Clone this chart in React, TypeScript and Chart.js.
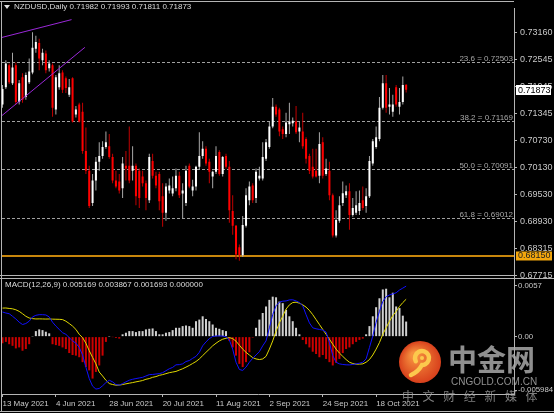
import React, { useEffect, useRef } from 'react';
import { Chart, registerables } from 'chart.js';

Chart.register(...registerables);

// ---------- text ----------
const symbolTitle = 'NZDUSD,Daily';
const headerValues = ['0.71982', '0.71993', '0.71811', '0.71873'];
const macdTitle = 'MACD(12,26,9)';
const macdHeaderValues = ['0.005169', '0.003867', '0.001693', '0.000000'];

// ---------- axis ticks ----------
const dateTickIndex = [0, 16, 32, 48, 64, 80, 96, 112];
const dateTickLabels = ['13 May 2021', '4 Jun 2021', '28 Jun 2021', '20 Jul 2021', '11 Aug 2021', '2 Sep 2021', '24 Sep 2021', '18 Oct 2021'];
const priceTicks = [0.7316, 0.72545, 0.71945, 0.71345, 0.7073, 0.7013, 0.6953, 0.6893, 0.68315, 0.67715];
const macdTicks = [0.0057, 0, -0.005984];
const macdTickLabels = ['0.0057', '0.00', '-0.005984'];

// ---------- candles (daily, bar 0 = 13 May 2021) ----------
const openP = [
  0.7154, 0.7193, 0.7242, 0.7202, 0.7242, 0.7160, 0.7215, 0.7171, 0.7204, 0.7226,
  0.7279, 0.7292, 0.7253, 0.7268, 0.7235, 0.7242, 0.7143, 0.7193, 0.7226, 0.7213,
  0.7176, 0.7213, 0.7132, 0.7154, 0.7138, 0.7050, 0.7006, 0.6934, 0.6984, 0.7026,
  0.7039, 0.7059, 0.7061, 0.7037, 0.6984, 0.6982, 0.6967, 0.7017, 0.7017, 0.7006,
  0.7017, 0.7006, 0.6993, 0.6978, 0.6940, 0.7028, 0.6995, 0.6999, 0.6949, 0.6912,
  0.6962, 0.6955, 0.6967, 0.6995, 0.6955, 0.6934, 0.7017, 0.6962, 0.6971, 0.7015,
  0.7039, 0.7055, 0.7026, 0.6993, 0.7004, 0.7048, 0.6999, 0.7039, 0.7015, 0.6916,
  0.6883, 0.6835, 0.6817, 0.6883, 0.6940, 0.6973, 0.6945, 0.6989, 0.6989, 0.7033,
  0.7059, 0.7105, 0.7149, 0.7143, 0.7099, 0.7088, 0.7110, 0.7112, 0.7116, 0.7094,
  0.7094, 0.7077, 0.7039, 0.7015, 0.7006, 0.6995, 0.7070, 0.6999, 0.7006, 0.6951,
  0.6861, 0.6894, 0.6934, 0.6951, 0.6960, 0.6907, 0.6912, 0.6916, 0.6940, 0.6927,
  0.6949, 0.7022, 0.7059, 0.7077, 0.7147, 0.7202, 0.7149, 0.7138, 0.7193, 0.7149,
  0.7160, 0.71982,
];
const highP = [
  0.7198, 0.7253, 0.7246, 0.7270, 0.7248, 0.7209, 0.7224, 0.7226, 0.7257, 0.7316,
  0.7308, 0.7301, 0.7279, 0.7275, 0.7253, 0.7246, 0.7220, 0.7242, 0.7231, 0.7217,
  0.7211, 0.7215, 0.7151, 0.7158, 0.7158, 0.7103, 0.7017, 0.6999, 0.7037, 0.7070,
  0.7072, 0.7094, 0.7088, 0.7044, 0.7006, 0.6999, 0.7037, 0.7050, 0.7105, 0.7061,
  0.7022, 0.7011, 0.7006, 0.6984, 0.7044, 0.7044, 0.7004, 0.7004, 0.6978, 0.6978,
  0.6989, 0.6993, 0.7011, 0.7004, 0.6978, 0.7017, 0.7022, 0.6986, 0.7017, 0.7092,
  0.7072, 0.7061, 0.7033, 0.7006, 0.7061, 0.7052, 0.7039, 0.7044, 0.7028, 0.6951,
  0.6885, 0.6841, 0.6905, 0.6967, 0.6982, 0.6978, 0.7011, 0.7015, 0.7070, 0.7077,
  0.7116, 0.7169, 0.7154, 0.7147, 0.7105, 0.7136, 0.7158, 0.7125, 0.7151, 0.7116,
  0.7136, 0.7081, 0.7044, 0.7055, 0.7055, 0.7092, 0.7081, 0.7033, 0.7026, 0.6955,
  0.6918, 0.6949, 0.6982, 0.6973, 0.6978, 0.6945, 0.6960, 0.6962, 0.6971, 0.6967,
  0.7039, 0.7077, 0.7105, 0.7171, 0.7220, 0.7220, 0.7191, 0.7176, 0.7198, 0.7191,
  0.7217, 0.71993,
];
const lowP = [
  0.7147, 0.7189, 0.7200, 0.7198, 0.7154, 0.7154, 0.7158, 0.7165, 0.7200, 0.7222,
  0.7270, 0.7231, 0.7242, 0.7224, 0.7228, 0.7127, 0.7132, 0.7187, 0.7180, 0.7180,
  0.7171, 0.7114, 0.7125, 0.7114, 0.7044, 0.6999, 0.6923, 0.6927, 0.6962, 0.7006,
  0.7033, 0.7055, 0.7033, 0.6978, 0.6967, 0.6955, 0.6945, 0.6984, 0.6978, 0.6984,
  0.6929, 0.6923, 0.6971, 0.6918, 0.6934, 0.6989, 0.6967, 0.6918, 0.6881, 0.6894,
  0.6955, 0.6949, 0.6960, 0.6945, 0.6900, 0.6927, 0.6967, 0.6949, 0.6962, 0.7008,
  0.7033, 0.7017, 0.6978, 0.6967, 0.6999, 0.6995, 0.6993, 0.7011, 0.6890, 0.6863,
  0.6808, 0.6805, 0.6813, 0.6879, 0.6929, 0.6934, 0.6934, 0.6984, 0.6984, 0.7028,
  0.7055, 0.7101, 0.7127, 0.7083, 0.7077, 0.7081, 0.7088, 0.7105, 0.7088, 0.7070,
  0.7055, 0.7022, 0.6999, 0.6989, 0.6991, 0.6978, 0.6989, 0.6995, 0.6940, 0.6857,
  0.6857, 0.6890, 0.6927, 0.6945, 0.6874, 0.6903, 0.6907, 0.6907, 0.6918, 0.6912,
  0.6945, 0.7017, 0.7055, 0.7072, 0.7143, 0.7136, 0.7132, 0.7127, 0.7149, 0.7132,
  0.7154, 0.71811,
];
const closeP = [
  0.7189, 0.7246, 0.7204, 0.7237, 0.7160, 0.7202, 0.7165, 0.7220, 0.7228, 0.7281,
  0.7294, 0.7257, 0.7270, 0.7231, 0.7246, 0.7147, 0.7215, 0.7224, 0.7187, 0.7191,
  0.7193, 0.7116, 0.7143, 0.7116, 0.7050, 0.7006, 0.6927, 0.6984, 0.7026, 0.7039,
  0.7059, 0.7070, 0.7037, 0.6984, 0.6971, 0.6962, 0.7022, 0.7011, 0.6984, 0.7017,
  0.6949, 0.6945, 0.6978, 0.6945, 0.7037, 0.6995, 0.6973, 0.6938, 0.6912, 0.6971,
  0.6973, 0.6967, 0.6995, 0.6951, 0.6962, 0.7006, 0.6971, 0.6971, 0.7015, 0.7039,
  0.7055, 0.7022, 0.7004, 0.7004, 0.7039, 0.6999, 0.7037, 0.7015, 0.6918, 0.6883,
  0.6819, 0.6817, 0.6885, 0.6951, 0.6971, 0.6940, 0.7004, 0.6995, 0.7037, 0.7070,
  0.7105, 0.7149, 0.7132, 0.7094, 0.7088, 0.7114, 0.7116, 0.7118, 0.7092, 0.7103,
  0.7061, 0.7033, 0.7006, 0.6993, 0.6993, 0.7066, 0.6995, 0.7011, 0.6951, 0.6861,
  0.6896, 0.6929, 0.6956, 0.6960, 0.6907, 0.6923, 0.6929, 0.6934, 0.6923, 0.6949,
  0.7028, 0.7072, 0.7081, 0.7147, 0.7202, 0.7147, 0.7154, 0.7154, 0.7154, 0.7160,
  0.7198, 0.71873,
];

// ---------- MACD(12,26,9) ----------
const macdHist = [
  -0.00073, -0.00059, -0.00085, -0.00103, -0.00132, -0.00121, -0.00158, -0.00139, -0.00085, 0.00002,
  0.00062, 0.00081, 0.00073, 0.00055, 0.00037, -0.00085, -0.00095, -0.00103, -0.00121, -0.00139,
  -0.00184, -0.00206, -0.00213, -0.00231, -0.00286, -0.00341, -0.00378, -0.0047, -0.00396, -0.00323,
  -0.00213, -0.00059, 0.00001, -0.00002, -0.00015, -0.00022, 0.00026, 0.00044, 0.00062, 0.00062,
  0.00051, 0.00062, 0.00062, 0.00081, 0.00088, 0.00092, 0.00062, 0.00026, 0.00026, 0.00044,
  0.00051, 0.00073, 0.00099, 0.00099, 0.00118, 0.00125, 0.00118, 0.00099, 0.00173, 0.00191,
  0.00228, 0.00198, 0.00173, 0.00136, 0.00099, 0.00088, 0.00073, 0.00062, -0.00048, -0.00121,
  -0.00213, -0.00305, -0.00341, -0.00286, -0.00176, -0.00011, 0.00099, 0.00191, 0.00265, 0.00338,
  0.00412, 0.00448, 0.00441, 0.00393, 0.00375, 0.00301, 0.00228, 0.00173, 0.00099, 0.00026,
  -0.00037, -0.00085, -0.00121, -0.00169, -0.00195, -0.00231, -0.00206, -0.0025, -0.00286, -0.00323,
  -0.00294, -0.0025, -0.00184, -0.00139, -0.00121, -0.00085, -0.00059, -0.00037, -0.00022, 0.00026,
  0.00118, 0.00228, 0.0033, 0.0043, 0.00529, 0.00537, 0.00441, 0.00492, 0.00338, 0.0032,
  0.00235, 0.00169,
];
const macdMain = [
  0.00276, 0.00265, 0.00257, 0.00228, 0.00198, 0.00162, 0.00136, 0.00147, 0.00173, 0.00221,
  0.00239, 0.00246, 0.00246, 0.00243, 0.00221, 0.00162, 0.00118, 0.00081, 0.00044, 0.00026,
  -0.00011, -0.00048, -0.00073, -0.00121, -0.00206, -0.00342, -0.0047, -0.00555, -0.00588, -0.00581,
  -0.00551, -0.00515, -0.00489, -0.00507, -0.00537, -0.00544, -0.00526, -0.00507, -0.00489, -0.00478,
  -0.0047, -0.00463, -0.00456, -0.00441, -0.00426, -0.00424, -0.00419, -0.00415, -0.00404, -0.00382,
  -0.0036, -0.00345, -0.00316, -0.00314, -0.00305, -0.00279, -0.00268, -0.00243, -0.00221, -0.00176,
  -0.00103, -0.00059, -0.00022, 0.00001, 0.00007, 0.00008, 0.00006, -0.00002, -0.00037, -0.0014,
  -0.00287, -0.00368, -0.00379, -0.00342, -0.00287, -0.00243, -0.00206, -0.00169, -0.00103, -0.00048,
  0.00099, 0.00246, 0.00346, 0.00386, 0.00397, 0.004, 0.00412, 0.00413, 0.004, 0.00382,
  0.00345, 0.00246, 0.00154, 0.00099, 0.00088, 0.00081, 0.00073, 0.00051, -0.00066, -0.00213,
  -0.00287, -0.00305, -0.00312, -0.00316, -0.00317, -0.00312, -0.00305, -0.00298, -0.00287, -0.0025,
  -0.00121, 0.00007, 0.00162, 0.00283, 0.00393, 0.00448, 0.00467, 0.00478, 0.00492, 0.00522,
  0.00544, 0.00566,
];
const macdSignal = [
  0.0032, 0.00321, 0.00316, 0.00312, 0.00301, 0.00283, 0.00257, 0.00228, 0.00209, 0.00202,
  0.00198, 0.00199, 0.00198, 0.00197, 0.00198, 0.00196, 0.00195, 0.00194, 0.00191, 0.00173,
  0.00147, 0.00118, 0.00081, 0.00026, -0.00011, -0.00074, -0.00158, -0.00232, -0.00305, -0.00397,
  -0.00441, -0.00489, -0.00526, -0.00537, -0.00544, -0.00543, -0.00537, -0.00529, -0.00522, -0.00515,
  -0.00507, -0.005, -0.00492, -0.00478, -0.0047, -0.00456, -0.00448, -0.00434, -0.00426, -0.00415,
  -0.00404, -0.00397, -0.0039, -0.00375, -0.0036, -0.00342, -0.00323, -0.00301, -0.00279, -0.0025,
  -0.00213, -0.00176, -0.0014, -0.00103, -0.00074, -0.00048, -0.00029, -0.00018, -0.00011, -0.00022,
  -0.00051, -0.00096, -0.0014, -0.00176, -0.00206, -0.00235, -0.0025, -0.00257, -0.0025, -0.00221,
  -0.0014, -0.00048, 0.00062, 0.00154, 0.00228, 0.00309, 0.00356, 0.00382, 0.00386, 0.00375,
  0.00356, 0.00331, 0.00294, 0.00246, 0.00191, 0.00136, 0.00081, 0.00026, -0.00029, -0.00085,
  -0.0014, -0.00184, -0.00221, -0.00257, -0.00287, -0.00301, -0.00309, -0.00308, -0.00305, -0.00287,
  -0.00257, -0.00206, -0.0014, -0.00066, 0.00026, 0.00099, 0.00173, 0.00235, 0.00283, 0.00338,
  0.00382, 0.00419,
];

// ---------- chart objects ----------
const fibLevels = ['23.6', '38.2', '50.0', '61.8'];
const fibPrices = [0.72503, 0.71169, 0.70091, 0.69012];
const supportPrice = 0.6815;
const lastPrice = 0.71873;
const trendLineA = [[-0.24, 0.7304], [20.7, 0.7344]];
const trendLineB = [[-0.24, 0.7129], [24.7, 0.7282]];

const W = 554;
const H = 413;

const mtPlugin = {
  id: 'mtLook',
  beforeDraw(chart: any) {
    const ctx = chart.ctx;
    ctx.save();
    ctx.fillStyle = '#000000';
    ctx.fillRect(0, 0, chart.width, chart.height);
    ctx.restore();
  },
  beforeDatasetsDraw(chart: any) {
    const { ctx, chartArea: ca } = chart;
    const y = chart.scales.y;
    ctx.save();
    ctx.strokeStyle = '#a0a0a0';
    ctx.lineWidth = 1;
    ctx.setLineDash([3, 2]);
    fibPrices.forEach((p) => {
      const py = Math.round(y.getPixelForValue(p)) + 0.5;
      ctx.beginPath();
      ctx.moveTo(ca.left, py);
      ctx.lineTo(ca.right, py);
      ctx.stroke();
    });
    ctx.setLineDash([]);
    const oy = Math.round(y.getPixelForValue(supportPrice));
    ctx.strokeStyle = '#c8860c';
    ctx.lineWidth = 2;
    ctx.beginPath();
    ctx.moveTo(ca.left, oy);
    ctx.lineTo(ca.right, oy);
    ctx.stroke();
    ctx.restore();
  },
  afterDatasetsDraw(chart: any) {
    const { ctx, chartArea: ca } = chart;
    const x = chart.scales.x;
    const y = chart.scales.y;
    ctx.save();
    ctx.beginPath();
    ctx.rect(ca.left, y.top, ca.right - ca.left, y.bottom - y.top);
    ctx.clip();
    ctx.strokeStyle = '#9a28d8';
    ctx.lineWidth = 1;
    [trendLineA, trendLineB].forEach((ln) => {
      ctx.beginPath();
      ctx.moveTo(x.getPixelForValue(ln[0][0]), y.getPixelForValue(ln[0][1]));
      ctx.lineTo(x.getPixelForValue(ln[1][0]), y.getPixelForValue(ln[1][1]));
      ctx.stroke();
    });
    ctx.font = '8px "Liberation Sans"';
    ctx.fillStyle = '#a8a8a8';
    ctx.textAlign = 'right';
    ctx.textBaseline = 'alphabetic';
    fibPrices.forEach((p, k) => {
      const py = Math.round(y.getPixelForValue(p));
      ctx.fillText(`${fibLevels[k]} = ${p.toFixed(5)}`, ca.right - 1, py - 1.5);
    });
    ctx.restore();
  },
  afterDraw(chart: any) {
    const { ctx, chartArea: ca } = chart;
    const y = chart.scales.y;
    ctx.save();
    // frame lines
    ctx.strokeStyle = '#b4b4b4';
    ctx.lineWidth = 1;
    const line = (x1: number, y1: number, x2: number, y2: number) => {
      ctx.beginPath();
      ctx.moveTo(x1, y1);
      ctx.lineTo(x2, y2);
      ctx.stroke();
    };
    line(0, 1.5, ca.right, 1.5);
    line(1.5, 1.5, 1.5, 411.5);
    line(0, 275.5, ca.right, 275.5);
    line(0, 278.5, W, 278.5);
    line(0, 411.5, W, 411.5);

    // headers
    ctx.fillStyle = '#e0e0e0';
    ctx.beginPath();
    ctx.moveTo(4, 5);
    ctx.lineTo(10, 5);
    ctx.lineTo(7, 9);
    ctx.closePath();
    ctx.fill();
    ctx.font = '8px "Liberation Sans"';
    ctx.textAlign = 'left';
    ctx.textBaseline = 'middle';
    ctx.fillStyle = '#dcdcdc';
    ctx.fillText(`${symbolTitle} ${headerValues.join(' ')}`, 14, 7);
    ctx.fillText(`${macdTitle} ${macdHeaderValues.join(' ')}`, 5, 285);

    // price boxes
    const ly = y.getPixelForValue(lastPrice);
    ctx.fillStyle = '#ffffff';
    ctx.fillRect(516, Math.round(ly) - 5, 35, 10);
    ctx.fillStyle = '#000000';
    ctx.font = '9px "Liberation Sans"';
    ctx.fillText(lastPrice.toFixed(5), 518, Math.round(ly) + 0.5);
    const sy = y.getPixelForValue(supportPrice);
    ctx.fillStyle = '#f2a60d';
    ctx.fillRect(516, Math.round(sy) - 4.5, 36, 9);
    ctx.fillStyle = '#202020';
    ctx.fillText(supportPrice.toFixed(5), 518, Math.round(sy));

    // watermark logo
    const cx = 420;
    const cy = 362;
    const r = 21;
    const g = ctx.createRadialGradient(cx - 6, cy - 7, 3, cx, cy, r);
    g.addColorStop(0, '#f6903e');
    g.addColorStop(1, '#d8401c');
    ctx.fillStyle = g;
    ctx.beginPath();
    ctx.arc(cx, cy, r, 0, Math.PI * 2);
    ctx.fill();
    ctx.strokeStyle = '#fcc94d';
    ctx.lineCap = 'round';
    ctx.lineWidth = 4.5;
    ctx.beginPath();
    ctx.arc(cx + 2, cy - 4, 7, Math.PI * 0.85, Math.PI * 2.5);
    ctx.quadraticCurveTo(cx - 2, cy + 10, cx - 9, cy + 13);
    ctx.stroke();
    ctx.fillStyle = '#fcc94d';
    ctx.beginPath();
    ctx.arc(cx + 2, cy - 4, 2, 0, Math.PI * 2);
    ctx.fill();

    ctx.globalAlpha = 0.85;
    ctx.fillStyle = '#a8a8a8';
    ctx.textAlign = 'left';
    ctx.textBaseline = 'middle';
    ctx.font = 'bold 29px "Noto Sans CJK SC"';
    ctx.fillText('中金网', 448, 360);
    ctx.font = '10px "Liberation Sans"';
    ctx.fillText('CNGOLD.COM.CN', 451, 382);
    ctx.globalAlpha = 0.75;
    ctx.font = '12px "Noto Sans CJK SC"';
    const tag = ['中', '文', '财', '经', '新', '媒', '体'];
    tag.forEach((ch, k) => ctx.fillText(ch, 402 + k * 20.6, 396));
    ctx.restore();
  },
};

export default function App() {
  const ref = useRef<HTMLCanvasElement | null>(null);

  useEffect(() => {
    document.body.style.margin = '0';
    document.body.style.background = '#000';
    const canvas = ref.current;
    if (!canvas) return;
    const idx = closeP.map((_, i) => i);
    const bull = idx.map((i) => closeP[i] >= openP[i]);

    const chart = new Chart(canvas, {
      type: 'bar',
      data: {
        datasets: [
          {
            type: 'bar',
            label: 'body',
            data: idx.map((i) => ({ x: i, y: [openP[i], closeP[i]] })) as any,
            yAxisID: 'y',
            backgroundColor: idx.map((i) => (bull[i] ? '#ffffff' : '#ff0000')),
            grouped: false,
            maxBarThickness: 2,
            minBarLength: 1,
            order: 1,
          },
          {
            type: 'bar',
            label: 'wick',
            data: idx.map((i) => ({ x: i, y: [lowP[i], highP[i]] })) as any,
            yAxisID: 'y',
            backgroundColor: idx.map((i) => (bull[i] ? '#a8a8a8' : '#c00000')),
            grouped: false,
            maxBarThickness: 1,
            order: 2,
          },
          {
            type: 'line',
            label: 'MACD',
            data: macdMain.map((v, i) => ({ x: i, y: v })),
            yAxisID: 'y2',
            borderColor: '#1010ff',
            borderWidth: 1,
            pointRadius: 0,
            tension: 0,
            order: 0,
          },
          {
            type: 'line',
            label: 'Signal',
            data: macdSignal.map((v, i) => ({ x: i, y: v })),
            yAxisID: 'y2',
            borderColor: '#e0d800',
            borderWidth: 1,
            pointRadius: 0,
            tension: 0,
            order: 0,
          },
          {
            type: 'bar',
            label: 'Histogram',
            data: macdHist.map((v, i) => ({ x: i, y: v })) as any,
            yAxisID: 'y2',
            backgroundColor: macdHist.map((v) => (v >= 0 ? '#d0d0d0' : '#cc0000')),
            grouped: false,
            maxBarThickness: 2,
            order: 3,
          },
        ],
      },
      options: {
        responsive: false,
        maintainAspectRatio: false,
        animation: false,
        devicePixelRatio: 1,
        events: [],
        layout: { padding: { top: 2, left: 2, right: 0, bottom: 0 } },
        plugins: { legend: { display: false }, tooltip: { enabled: false }, title: { display: false } },
        scales: {
          x: {
            type: 'linear',
            min: -0.15,
            max: 153.33,
            offset: false,
            grid: { display: true, drawOnChartArea: false, drawTicks: true, tickLength: 3, tickColor: '#b4b4b4', offset: false },
            border: { display: true, color: '#b4b4b4' },
            ticks: {
              autoSkip: false,
              maxRotation: 0,
              minRotation: 0,
              align: 'start',
              padding: 2,
              color: '#c8c8c8',
              font: { family: '"Liberation Sans"', size: 8 },
              callback: (v: any) => {
                const k = dateTickIndex.indexOf(Number(v));
                return k >= 0 ? dateTickLabels[k] : '';
              },
            },
            afterBuildTicks: (s: any) => {
              s.ticks = dateTickIndex.map((v) => ({ value: v }));
            },
            afterFit: (s: any) => {
              s.height = 19;
            },
          },
          y: {
            type: 'linear',
            position: 'right',
            stack: 'panes',
            stackWeight: 275,
            min: 0.67642,
            max: 0.73691,
            bounds: 'data',
            grid: { display: true, drawOnChartArea: false, drawTicks: true, tickLength: 3, tickColor: '#b4b4b4' },
            border: { display: true, color: '#b4b4b4' },
            ticks: {
              autoSkip: false,
              padding: 3,
              color: '#c8c8c8',
              font: { family: '"Liberation Sans"', size: 9 },
              callback: (v: any) => Number(v).toFixed(5),
            },
            afterBuildTicks: (s: any) => {
              s.ticks = priceTicks.map((v) => ({ value: v }));
            },
            afterFit: (s: any) => {
              s.width = 40;
            },
          },
          y2: {
            type: 'linear',
            position: 'right',
            stack: 'panes',
            stackWeight: 117,
            min: -0.00643,
            max: 0.00647,
            bounds: 'data',
            grid: { display: true, drawOnChartArea: false, drawTicks: true, tickLength: 3, tickColor: '#b4b4b4' },
            border: { display: true, color: '#b4b4b4' },
            ticks: {
              autoSkip: false,
              padding: 1,
              color: '#c8c8c8',
              font: { family: '"Liberation Sans"', size: 7.8 },
              callback: (v: any) => {
                const k = macdTicks.indexOf(Number(v));
                return k >= 0 ? macdTickLabels[k] : '';
              },
            },
            afterBuildTicks: (s: any) => {
              s.ticks = macdTicks.map((v) => ({ value: v }));
            },
            afterFit: (s: any) => {
              s.width = 40;
            },
          },
        },
      } as any,
      plugins: [mtPlugin],
    });
    return () => chart.destroy();
  }, []);

  return (
    <div style={{ position: 'absolute', left: 0, top: 0, width: W, height: H, background: '#000' }}>
      <canvas ref={ref} width={W} height={H} style={{ display: 'block', width: W, height: H }} />
    </div>
  );
}
